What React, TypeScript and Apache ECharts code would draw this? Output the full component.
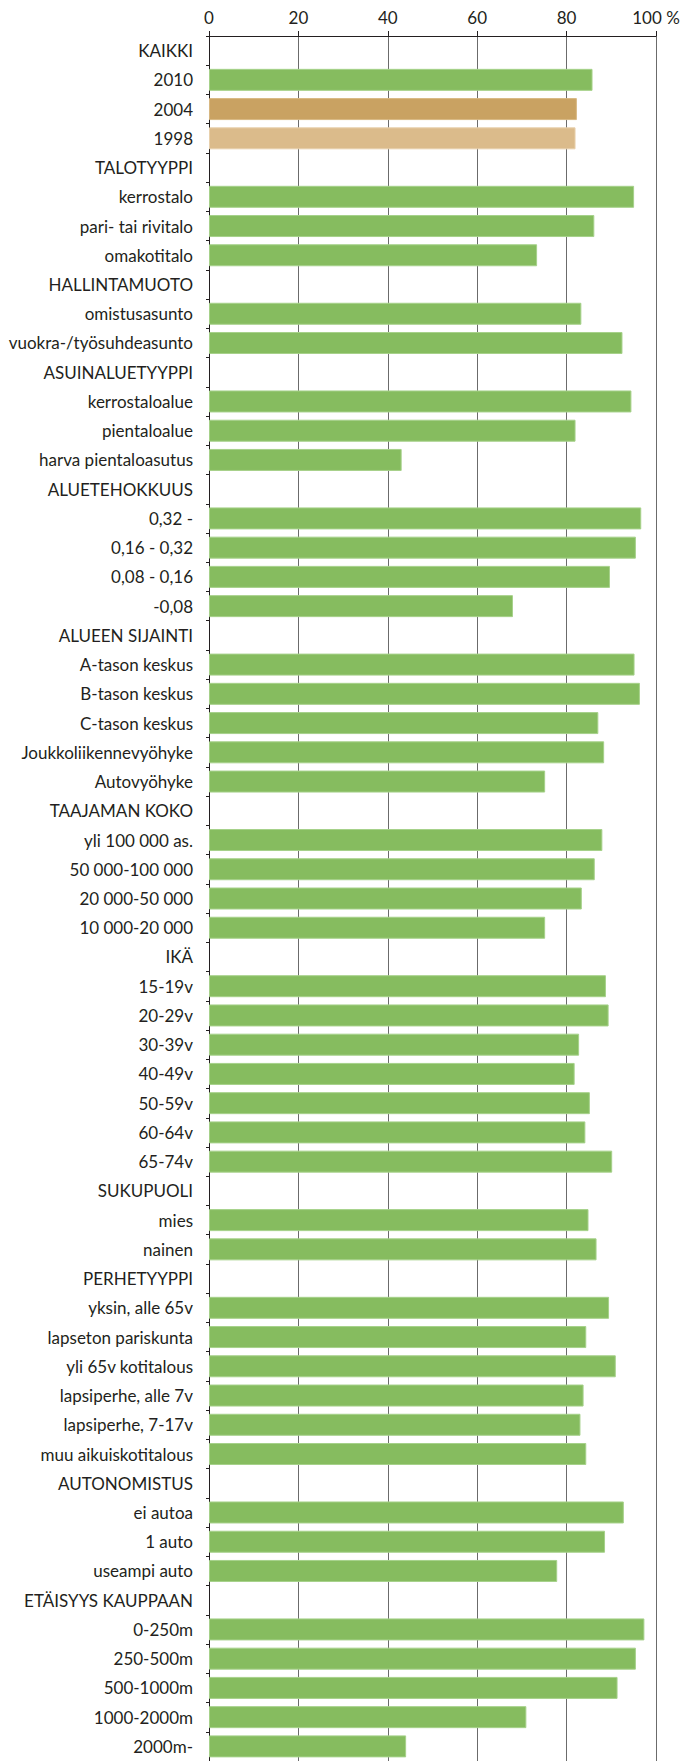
import React, { useEffect, useRef } from "react";
import * as echarts from "echarts";

const categories: string[] = [
  "KAIKKI", "2010", "2004", "1998",
  "TALOTYYPPI", "kerrostalo", "pari- tai rivitalo", "omakotitalo",
  "HALLINTAMUOTO", "omistusasunto", "vuokra-/työsuhdeasunto",
  "ASUINALUETYYPPI", "kerrostaloalue", "pientaloalue", "harva pientaloasutus",
  "ALUETEHOKKUUS", "0,32 -", "0,16 - 0,32", "0,08 - 0,16", "-0,08",
  "ALUEEN SIJAINTI", "A-tason keskus", "B-tason keskus", "C-tason keskus", "Joukkoliikennevyöhyke", "Autovyöhyke",
  "TAAJAMAN KOKO", "yli 100 000 as.", "50 000-100 000", "20 000-50 000", "10 000-20 000",
  "IKÄ", "15-19v", "20-29v", "30-39v", "40-49v", "50-59v", "60-64v", "65-74v",
  "SUKUPUOLI", "mies", "nainen",
  "PERHETYYPPI", "yksin, alle 65v", "lapseton pariskunta", "yli 65v kotitalous", "lapsiperhe, alle 7v", "lapsiperhe, 7-17v", "muu aikuiskotitalous",
  "AUTONOMISTUS", "ei autoa", "1 auto", "useampi auto",
  "ETÄISYYS KAUPPAAN", "0-250m", "250-500m", "500-1000m", "1000-2000m", "2000m-",
];

// null = group heading row (no bar)
const values: (number | null)[] = [
  null, 85.8, 82.3, 82.0,
  null, 95.1, 86.2, 73.4,
  null, 83.3, 92.5,
  null, 94.5, 82.0, 43.1,
  null, 96.7, 95.5, 89.7, 68.0,
  null, 95.2, 96.4, 87.1, 88.4, 75.2,
  null, 88.0, 86.3, 83.4, 75.2,
  null, 88.8, 89.4, 82.8, 81.8, 85.2, 84.2, 90.2,
  null, 84.9, 86.7,
  null, 89.5, 84.4, 91.0, 83.8, 83.1, 84.4,
  null, 92.8, 88.6, 77.9,
  null, 97.4, 95.5, 91.4, 71.0, 44.1,
];

const xTicks: number[] = [0, 20, 40, 60, 80, 100];

const GREEN = "#86bc5f";
const specialColors: Record<string, string> = {
  "2004": "#c9a262",
  "1998": "#dbbb8b",
};
const specialBorders: Record<string, string> = {
  "2004": "#d8b882",
  "1998": "#e8d0ac",
};

export default function App() {
  const ref = useRef<HTMLDivElement>(null);

  useEffect(() => {
    if (!ref.current) return;
    const chart = echarts.init(ref.current, undefined, { renderer: "svg" });
    const textColor = "#231f20";
    const font = "Lato";

    chart.setOption({
      animation: false,
      backgroundColor: "#ffffff",
      grid: { left: 209, top: 36, width: 447, height: 59 * 29.3, containLabel: false },
      xAxis: {
        type: "value",
        position: "top",
        min: xTicks[0],
        max: xTicks[xTicks.length - 1],
        interval: 20,
        axisLine: { show: true, lineStyle: { color: "#231f20", width: 1 } },
        axisTick: { show: true, length: 5, lineStyle: { color: "#231f20" } },
        splitLine: { show: true, lineStyle: { color: "#6b6b6b", width: 1 } },
        axisLabel: {
          color: textColor,
          fontFamily: font,
          fontSize: 17,
          margin: 10,
          formatter: (v: number) => (v === 100 ? "100 %" : String(v)),
        },
      },
      yAxis: {
        type: "category",
        inverse: true,
        data: categories,
        axisLine: { show: true, lineStyle: { color: "#231f20", width: 1 } },
        axisTick: { show: true, length: 3, lineStyle: { color: "#231f20" } },
        axisLabel: {
          color: textColor,
          fontFamily: font,
          fontSize: 17,
          margin: 16,
          interval: 0,
        },
        splitLine: { show: false },
      },
      series: [
        {
          type: "bar",
          barWidth: 22,
          data: values.map((v, i) => {
            const c = categories[i];
            return {
              value: v === null ? "-" : v,
              itemStyle: {
                color: specialColors[c] || GREEN,
                borderColor: specialBorders[c] || "#a6d18a",
                borderWidth: 1,
              },
            };
          }),
        },
      ],
    });

    return () => chart.dispose();
  }, []);

  return (
    <div
      ref={ref}
      style={{ position: "absolute", left: 0, top: 0, width: 691, height: 1761 }}
    />
  );
}
